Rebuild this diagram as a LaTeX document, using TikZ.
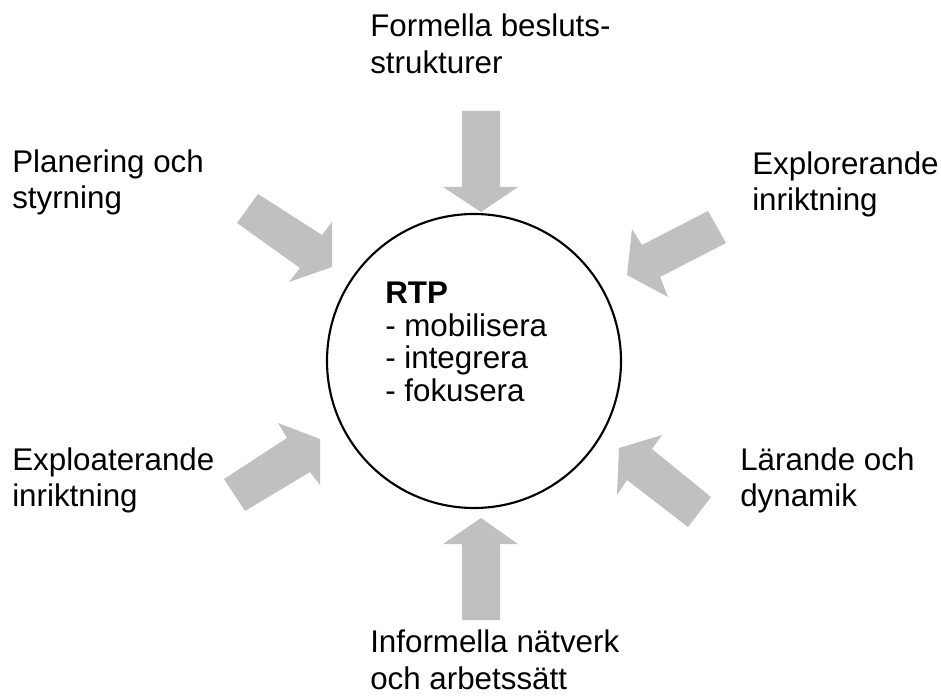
\documentclass[tikz,border=0pt]{standalone}
\usepackage{fontspec}
\setmainfont{Liberation Sans}
\definecolor{arrowgray}{HTML}{C0C0C0}
\begin{document}
\begin{tikzpicture}[x=0.75pt,y=-0.75pt,
  lbl/.style={anchor=base west, inner sep=0pt, font=\fontsize{23.5}{27}\selectfont},
  blockarrow/.style={fill=arrowgray, draw=none}]
\useasboundingbox (0,0) rectangle (941,698);
% circle
\node[draw=black, line width=1.6pt, circle, minimum size=294*0.75pt, inner sep=0pt] (rtp) at (474,361) {};
% RTP text
\node[lbl] (t0) at (385,303) {\bfseries RTP};
\node[lbl] (t1) at (385,336) {- mobilisera};
\node[lbl] (t2) at (385,368) {- integrera};
\node[lbl] (t3) at (385,401) {- fokusera};
% outer labels
\node[lbl] (f1) at (370,37) {Formella besluts-};
\node[lbl] (f2) at (370,74) {strukturer};
\node[lbl] (p1) at (12,173) {Planering och};
\node[lbl] (p2) at (12,209) {styrning};
\node[lbl] (e1) at (752,175) {Explorerande};
\node[lbl] (e2) at (752,211) {inriktning};
\node[lbl] (x1) at (12,470) {Exploaterande};
\node[lbl] (x2) at (12,506) {inriktning};
\node[lbl] (l1) at (740,470) {Lärande och};
\node[lbl] (l2) at (740,506) {dynamik};
\node[lbl] (i1) at (370,652) {Informella nätverk};
\node[lbl] (i2) at (370,689) {och arbetssätt};
% block arrows
\fill[blockarrow] (462,111) -- (500,111) -- (500,187) -- (518,187) -- (481,212) -- (443,187) -- (462,187) -- cycle;
\fill[blockarrow] (462,620) -- (500,620) -- (500,544) -- (518,544) -- (481,518) -- (443,544) -- (462,544) -- cycle;
\fill[blockarrow] (258,194) -- (322,235) -- (332,222) -- (332,267) -- (289,282) -- (300,268) -- (237,223) -- cycle;
\fill[blockarrow] (708,211) -- (642,245) -- (632,229) -- (627,275) -- (668,297) -- (660,277) -- (726,243) -- cycle;
\fill[blockarrow] (224,479) -- (287,438) -- (278,423) -- (320,439) -- (320,485) -- (310,472) -- (245,511) -- cycle;
\fill[blockarrow] (688,527) -- (711,497) -- (652,449) -- (662,435) -- (619,448) -- (617,495) -- (627,480) -- cycle;
\end{tikzpicture}
\end{document}
